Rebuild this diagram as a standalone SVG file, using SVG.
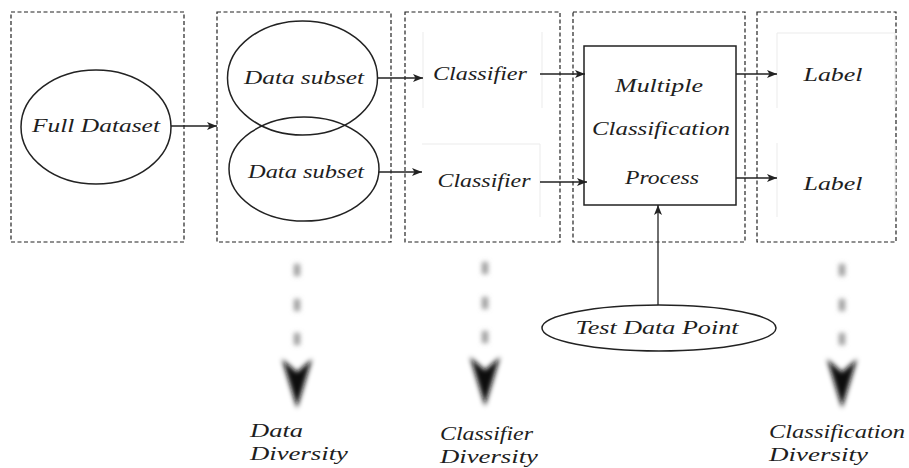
<svg xmlns="http://www.w3.org/2000/svg" width="909" height="468" viewBox="0 0 909 468">
  <style>
    .stage { fill: none; stroke: #222; stroke-width: 1.2; stroke-dasharray: 4 2.5; }
    .node { fill: none; stroke: #222; stroke-width: 1.5; }
    .ghost { fill: none; stroke: #ebebeb; stroke-width: 1; }
    .lbl { font-family: "Liberation Serif", "DejaVu Serif", serif; font-style: italic; font-size: 19px; fill: #1e1e1e; }
    .mid { text-anchor: middle; }
    .edge { fill: none; stroke: #222; stroke-width: 1.3; marker-end: url(#head); }
    .dot { fill: #999; }
    .tip { fill: #111; }
  </style>
  <defs>
    <marker id="head" viewBox="0 0 10 8" refX="10" refY="4" markerWidth="10" markerHeight="8" markerUnits="userSpaceOnUse" orient="auto">
      <path d="M0,0 L10,4 L0,8 L2.5,4 Z" fill="#222"/>
    </marker>
    <filter id="soft" x="-50%" y="-50%" width="200%" height="200%">
      <feGaussianBlur stdDeviation="2.6"/>
    </filter>
    <g id="diversity">
      <rect class="dot" x="-3" y="-6" width="6" height="12"/>
      <rect class="dot" x="-3" y="29" width="6" height="12"/>
      <rect class="dot" x="-3" y="63" width="6" height="12"/>
      <path class="tip" d="M-15,89 L0,102 L15,89 L0,138 Z"/>
    </g>
  </defs>

  <!-- dashed stage frames -->
  <g id="stages">
    <rect class="stage" x="11" y="12" width="173" height="230"/>
    <rect class="stage" x="217" y="12" width="174" height="230"/>
    <rect class="stage" x="405" y="12" width="155" height="230"/>
    <rect class="stage" x="573" y="12" width="172" height="230"/>
    <rect class="stage" x="757" y="12" width="139" height="230"/>
  </g>

  <g id="full-dataset">
    <ellipse class="node" cx="96" cy="127" rx="75" ry="57"/>
    <text class="lbl mid" x="96" y="132" textLength="128" lengthAdjust="spacingAndGlyphs">Full Dataset</text>
  </g>

  <g id="data-subset-1">
    <ellipse class="node" cx="302.5" cy="78" rx="75" ry="57"/>
    <text class="lbl mid" x="304" y="84" textLength="120" lengthAdjust="spacingAndGlyphs">Data subset</text>
  </g>

  <g id="data-subset-2">
    <ellipse class="node" cx="304" cy="169" rx="75" ry="52"/>
    <text class="lbl mid" x="306" y="178" textLength="116" lengthAdjust="spacingAndGlyphs">Data subset</text>
  </g>

  <g id="classifier-1">
    <path class="ghost" d="M423,32 V108 M542,32 V108"/>
    <text class="lbl mid" x="480" y="80" textLength="94" lengthAdjust="spacingAndGlyphs">Classifier</text>
  </g>

  <g id="classifier-2">
    <path class="ghost" d="M422,144 H540 V217"/>
    <text class="lbl mid" x="484" y="187" textLength="93" lengthAdjust="spacingAndGlyphs">Classifier</text>
  </g>

  <g id="multiple-classification">
    <rect class="node" x="584" y="46" width="152" height="159"/>
    <text class="lbl mid" x="659" y="92" textLength="88" lengthAdjust="spacingAndGlyphs">Multiple</text>
    <text class="lbl mid" x="661" y="135" textLength="138" lengthAdjust="spacingAndGlyphs">Classification</text>
    <text class="lbl mid" x="662" y="184" textLength="74" lengthAdjust="spacingAndGlyphs">Process</text>
  </g>

  <g id="label-1">
    <path class="ghost" d="M777,108 V33 H895 V108"/>
    <text class="lbl mid" x="833" y="81" textLength="59" lengthAdjust="spacingAndGlyphs">Label</text>
  </g>

  <g id="label-2">
    <path class="ghost" d="M777,143 V217 M895,143 V217"/>
    <text class="lbl mid" x="833" y="190" textLength="59" lengthAdjust="spacingAndGlyphs">Label</text>
  </g>

  <g id="test-data-point">
    <ellipse class="node" cx="659" cy="328" rx="117" ry="23"/>
    <text class="lbl mid" x="657" y="334" textLength="163" lengthAdjust="spacingAndGlyphs">Test Data Point</text>
  </g>

  <!-- connectors -->
  <g id="connectors">
    <path class="edge" d="M171,126 H217"/>
    <path class="edge" d="M378,78 H423"/>
    <path class="edge" d="M379,172 H422"/>
    <path class="edge" d="M540,74 H585"/>
    <path class="edge" d="M540,182 H587"/>
    <path class="edge" d="M736,74 H777"/>
    <path class="edge" d="M736,178 H777"/>
    <path class="edge" d="M658,305 V205"/>
  </g>

  <!-- blurred diversity pointers -->
  <g id="diversity-arrows" filter="url(#soft)">
    <use href="#diversity" x="297" y="270"/>
    <use href="#diversity" x="485" y="268"/>
    <use href="#diversity" x="842" y="270"/>
  </g>

  <g id="data-diversity">
    <text class="lbl" x="250" y="437" textLength="53" lengthAdjust="spacingAndGlyphs">Data</text>
    <text class="lbl" x="250" y="460" textLength="98" lengthAdjust="spacingAndGlyphs">Diversity</text>
  </g>
  <g id="classifier-diversity">
    <text class="lbl" x="440" y="440" textLength="93" lengthAdjust="spacingAndGlyphs">Classifier</text>
    <text class="lbl" x="440" y="463" textLength="98" lengthAdjust="spacingAndGlyphs">Diversity</text>
  </g>
  <g id="classification-diversity">
    <text class="lbl" x="769" y="438" textLength="136" lengthAdjust="spacingAndGlyphs">Classification</text>
    <text class="lbl" x="769" y="461" textLength="99" lengthAdjust="spacingAndGlyphs">Diversity</text>
  </g>
</svg>
